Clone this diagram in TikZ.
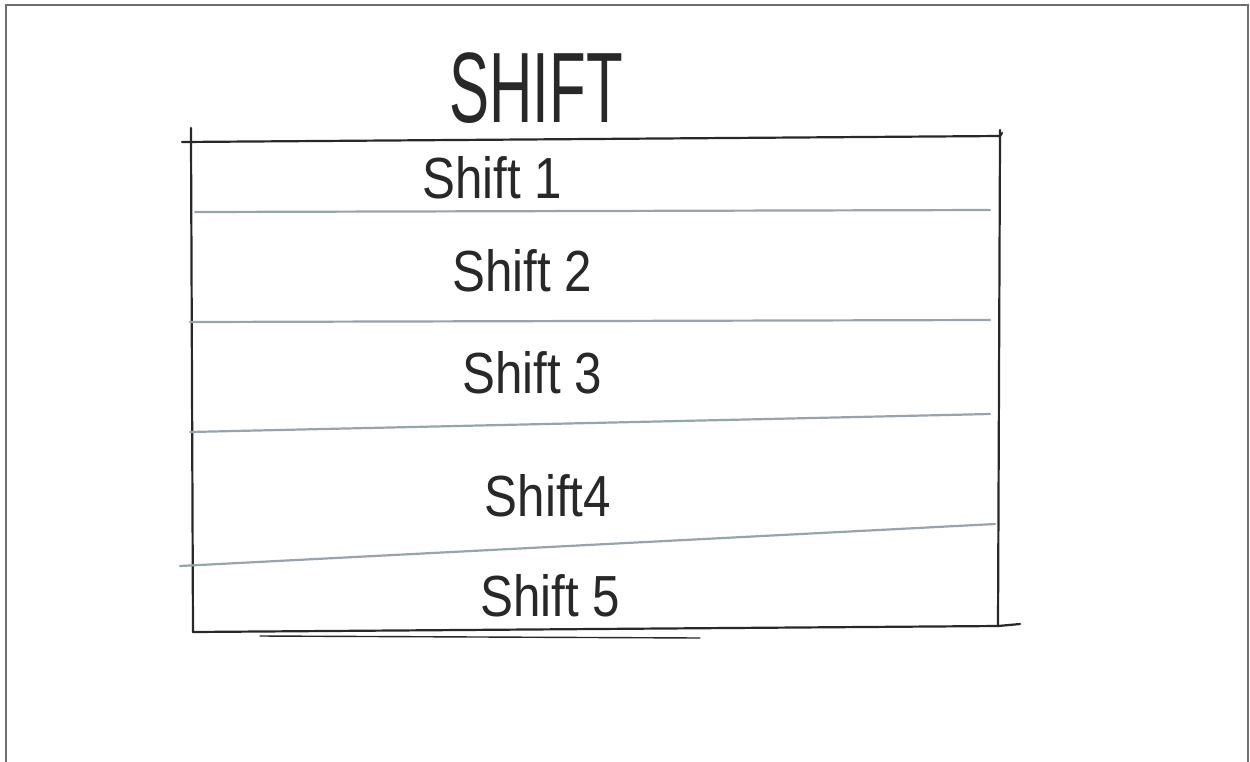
\documentclass[tikz,border=0pt]{standalone}
\usepackage{fontspec}
\setmainfont{Liberation Sans}
\usetikzlibrary{positioning}

\definecolor{penink}{RGB}{40,40,40}
\definecolor{penrule}{RGB}{150,165,170}
\definecolor{framegray}{RGB}{110,110,110}

\begin{document}
\begin{tikzpicture}[x=1pt, y=-1pt,
      edge/.style={draw=penink, line width=2.2pt, line cap=round},
      rule/.style={draw=penrule, line width=2.2pt, line cap=round},
      lbl/.style={text=penink, inner sep=0pt, font=\fontsize{58}{58}\selectfont, xscale=0.85}]

    \useasboundingbox (0,0) rectangle (1250,761);
    \draw[framegray, line width=2pt] (6,770) -- (6,5) -- (1248,5) -- (1248,770);

    % title
    \node[text=penink, inner sep=0pt, font=\fontsize{100}{100}\selectfont, xscale=0.6] (title) at (536,88) {SHIFT};

    % outer box
    \coordinate (nw) at (191,138);
    \coordinate (ne) at (1000,136);
    \coordinate (sw) at (193,632);
    \coordinate (se) at (998,626);
    \draw[edge] (182,142) -- (ne) -- (1002,133);
    \draw[edge] (191,128) -- (nw) -- (sw);
    \draw[edge] (1000,130) -- (ne) -- (se);
    \draw[edge] (sw) -- (se) -- (1020,624);
    \draw[edge, line width=1.4pt] (260,636) -- (700,638);

    % row rules
    \draw[rule] (195,212) -- (990,210);
    \draw[rule] (190,322) -- (990,320);
    \draw[rule] (190,432) -- (990,414);
    \draw[rule] (180,566) -- (995,524);

    % rows
    \node[lbl] (s1) at (492,178) {Shift 1};
    \node[lbl] (s2) at (522,271) {Shift 2};
    \node[lbl] (s3) at (532,373) {Shift 3};
    \node[lbl] (s4) at (548,496) {Shift4};
    \node[lbl] (s5) at (550,596) {Shift 5};
  \end{tikzpicture}
\end{document}
